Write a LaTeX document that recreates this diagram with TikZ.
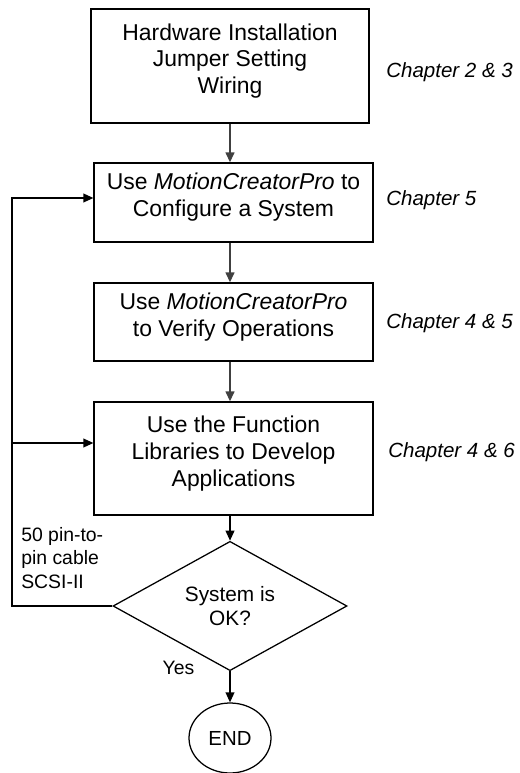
\documentclass[tikz,border=0pt]{standalone}
\usepackage{fontspec}
\setmainfont{Liberation Sans}
\usetikzlibrary{arrows.meta,shapes.geometric}

\begin{document}
\begin{tikzpicture}[
    >={Triangle[length=0.25cm,width=0.22cm]},
    stepbox/.style={draw, line width=0.9pt, align=center, inner sep=0pt, text depth=0.37cm,
      font=\fontsize{16.3}{19.1}\selectfont},
    chap/.style={anchor=west, inner sep=0pt, font=\fontsize{14.6}{17}\selectfont\itshape},
    flow/.style={->, line width=1.3pt, draw=black!75},
    loopline/.style={->, line width=0.9pt}
  ]

  \useasboundingbox (0,0) rectangle (13,-19.325);

  % main column
  \node[stepbox, minimum width=6.95cm, minimum height=2.85cm] (hw) at (5.75,-1.65)
    {Hardware Installation\\Jumper Setting\\Wiring};
  \node[stepbox, minimum width=6.975cm, minimum height=1.975cm] (cfg) at (5.8375,-5.0625)
    {Use \textit{MotionCreatorPro} to\\Configure a System};
  \node[stepbox, minimum width=6.975cm, minimum height=1.95cm] (ver) at (5.8375,-8.05)
    {Use \textit{MotionCreatorPro}\\to Verify Operations};
  \node[stepbox, minimum width=6.975cm, minimum height=2.825cm] (dev) at (5.8375,-11.4625)
    {Use the Function\\Libraries to Develop\\Applications};
  \node[draw, diamond, line width=0.9pt, align=center, inner sep=0pt,
        minimum width=5.85cm, minimum height=2.4cm,
        font=\fontsize{14.8}{17}\selectfont] (ok) at (5.75,-15.15) {System is\\OK?};
  \node[draw, ellipse, line width=0.9pt, inner sep=0pt,
        minimum width=2.05cm, minimum height=1.75cm,
        font=\fontsize{14.5}{17}\selectfont] (fin) at (5.75,-18.45) {END};

  % chapters
  \node[chap] (c1) at (9.65,-1.8) {Chapter 2 \& 3};
  \node[chap] (c2) at (9.65,-5.0) {Chapter 5};
  \node[chap] (c3) at (9.65,-8.075) {Chapter 4 \& 5};
  \node[chap] (c4) at (9.7,-11.3) {Chapter 4 \& 6};

  \node[anchor=west, align=left, inner sep=0pt, font=\fontsize{13.8}{16.7}\selectfont]
    (cable) at (0.525,-13.95) {50 pin-to-\\pin cable\\SCSI-II};
  \node[inner sep=0pt, font=\fontsize{13.8}{16}\selectfont] (yes) at (4.4625,-16.7) {Yes};

  \coordinate (axis) at (5.75,0);
  \coordinate (back) at (0.3,-4.95);
  \coordinate (tap) at (0.3,-11.075);

  \draw[flow] (hw.south) -- (axis |- cfg.north);
  \draw[flow] (axis |- cfg.south) -- (axis |- ver.north);
  \draw[flow] (axis |- ver.south) -- (axis |- dev.north);
  \draw[->, line width=0.9pt] (axis |- dev.south) -- (ok.north);
  \draw[->, line width=0.9pt] (ok.south) -- (fin.north);

  \draw[loopline] (ok.west) -| (back) -- (back -| cfg.west);
  \draw[loopline] (tap) -- (tap -| dev.west);

\end{tikzpicture}
\end{document}
